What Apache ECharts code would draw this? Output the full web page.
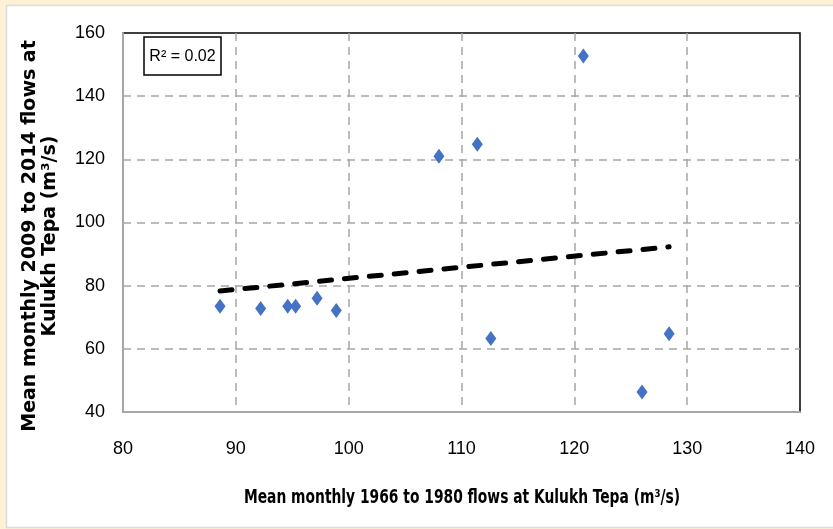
<!DOCTYPE html>
<html>
<head>
<meta charset="utf-8">
<script src="https://cdn.jsdelivr.net/npm/echarts@6/dist/echarts.min.js"></script>
<style>
  html, body { margin: 0; padding: 0; background: #fdf1d6; }
  #chart { width: 833px; height: 529px; }
</style>
</head>
<body>
<div id="chart"></div>
<script>
// flows at Kulukh Tepa, m3/s
var flows1966 = [88.6, 92.2, 94.6, 95.3, 97.2, 98.9, 108.0, 111.4, 112.6, 120.8, 126.0, 128.4];
var flows2009 = [73.5, 72.8, 73.5, 73.5, 76.0, 72.1, 121.0, 124.8, 63.3, 152.7, 46.3, 64.8];

// linear trend end points
var trendX = [88.6, 128.4];
var trendY = [78.3, 92.3];

var xTicks = [80, 90, 100, 110, 120, 130, 140];
var yTicks = [40, 60, 80, 100, 120, 140, 160];

var tickFont = "'Liberation Sans', Arial, sans-serif";
var narrowFont = "'DejaVu Sans Condensed', 'Liberation Sans', sans-serif";

function pairs(xs, ys){
    var out = [];
    for (var i = 0; i < xs.length; i++) {
        out.push([xs[i], ys[i]]);
    }
    return out;
}

var chart = echarts.init(document.getElementById('chart'));

chart.setOption({
    backgroundColor: '#fdf1d6',
    animation: false,
    graphic: [
        {
            type: 'rect',
            z: -10,
            shape: { x: 6.5, y: 5.5, width: 840, height: 522 },
            style: { fill: '#ffffff', stroke: '#dcdcdc', lineWidth: 1.5 }
        },
        {
            type: 'text',
            rotation: Math.PI / 2,
            x: 40,
            y: 236,
            style: {
                text: 'Mean monthly 2009 to 2014 flows at\nKulukh Tepa (m³/s)',
                font: "bold 19px 'DejaVu Sans', sans-serif",
                fill: '#000',
                textAlign: 'center',
                textVerticalAlign: 'middle',
                lineHeight: 20
            }
        },
        {
            type: 'text',
            x: 462,
            y: 498,
            scaleX: 0.81,
            style: {
                text: 'Mean monthly 1966 to 1980 flows at Kulukh Tepa (m³/s)',
                font: "bold 19px " + narrowFont,
                fill: '#000',
                textAlign: 'center',
                textVerticalAlign: 'middle'
            }
        },
        {
            type: 'group',
            x: 144,
            y: 37,
            children: [
                {
                    type: 'rect',
                    shape: { x: 0, y: 0, width: 77, height: 38 },
                    style: { fill: '#fff', stroke: '#000', lineWidth: 1.5 }
                },
                {
                    type: 'text',
                    x: 38.5,
                    y: 20,
                    style: {
                        text: 'R² = 0.02',
                        font: '16px ' + tickFont,
                        fill: '#000',
                        textAlign: 'center',
                        textVerticalAlign: 'middle'
                    }
                }
            ]
        }
    ],
    grid: {
        left: 123,
        top: 33,
        right: 33,
        bottom: 117,
        show: true,
        borderColor: '#000',
        borderWidth: 1.5,
        backgroundColor: 'transparent'
    },
    xAxis: {
        type: 'value',
        min: xTicks[0],
        max: xTicks[xTicks.length - 1],
        interval: 10,
        axisLine: { onZero: false, lineStyle: { color: '#a6a6a6', width: 2 } },
        axisTick: { show: false },
        axisLabel: {
            color: '#000',
            fontSize: 18,
            fontFamily: tickFont,
            margin: 28
        },
        splitLine: {
            showMinLine: false,
            showMaxLine: false,
            lineStyle: { color: '#a6a6a6', width: 1.5, type: [8, 6] }
        }
    },
    yAxis: {
        type: 'value',
        min: yTicks[0],
        max: yTicks[yTicks.length - 1],
        interval: 20,
        axisLine: { show: true, onZero: false, lineStyle: { color: '#a6a6a6', width: 2 } },
        axisTick: { show: false },
        axisLabel: {
            color: '#000',
            fontSize: 18,
            fontFamily: tickFont,
            margin: 18
        },
        splitLine: {
            showMinLine: false,
            showMaxLine: false,
            lineStyle: { color: '#a6a6a6', width: 1.5, type: [8, 6] }
        }
    },
    series: [
        {
            type: 'line',
            data: pairs(trendX, trendY),
            symbol: 'none',
            lineStyle: { color: '#000', width: 5, type: [12, 13], cap: 'round' },
            z: 3
        },
        {
            type: 'scatter',
            data: pairs(flows1966, flows2009),
            symbol: 'diamond',
            symbolSize: [11, 15],
            itemStyle: { color: '#4472c4', opacity: 1 },
            z: 4
        }
    ]
});
</script>
</body>
</html>
